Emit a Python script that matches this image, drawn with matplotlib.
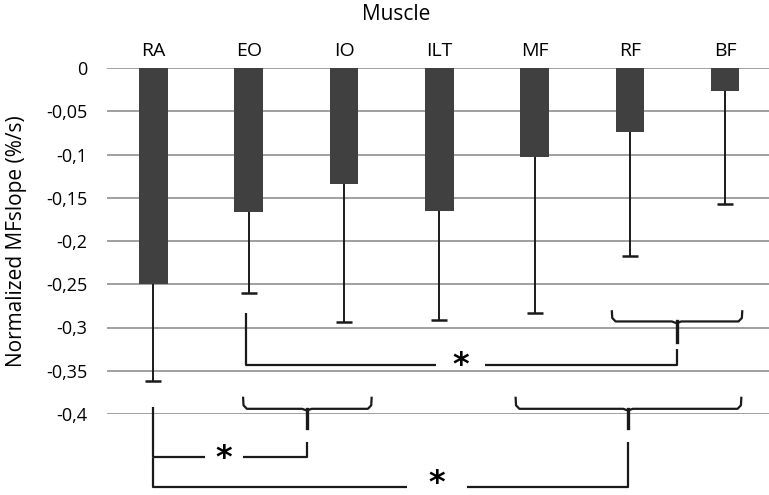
import matplotlib.pyplot as plt
import numpy as np

plt.rcParams['font.family'] = ['Open Sans', 'DejaVu Sans']

muscles = ['RA', 'EO', 'IO', 'ILT', 'MF', 'RF', 'BF']
means = [-0.250, -0.167, -0.134, -0.165, -0.103, -0.074, -0.027]
sd = [0.112, 0.093, 0.160, 0.126, 0.180, 0.143, 0.130]   # lower error only
yticks = [0, -0.05, -0.1, -0.15, -0.2, -0.25, -0.3, -0.35, -0.4]
ytick_labels = ['0', '-0,05', '-0,1', '-0,15', '-0,2', '-0,25', '-0,3', '-0,35', '-0,4']

fig = plt.figure(figsize=(7.69, 4.95), dpi=100)
ax = fig.add_axes([107/769, 1-414/495, 1-107/769, (414-68)/495])

x = np.arange(len(muscles))
lows = np.array(means) - np.array(sd)
ax.bar(x, means, width=0.30, color='#404040', zorder=3)
# only the lower half of the error bar is shown
ax.vlines(x, means, lows, color='#1a1a1a', lw=1.4, zorder=4)
ax.plot(x, lows, ls='none', marker='_', ms=11, mew=1.8, color='#1a1a1a', zorder=4)

ax.set_xlim(-0.488, 6.46)
ax.set_ylim(-0.4, 0)
ax.set_yticks(yticks)
ax.set_yticklabels(ytick_labels)
ax.set_xticks(x)
ax.set_xticklabels(muscles)
ax.tick_params(axis='x', top=True, bottom=False, labeltop=True, labelbottom=False,
               length=0, pad=6, labelsize=14)
ax.tick_params(axis='y', length=0, pad=14, labelsize=13)
ax.yaxis.grid(True, color='#999999', lw=1.3, zorder=0)
for s in ax.spines.values():
    s.set_visible(False)
fig.text(17/769, 1-241/495, 'Normalized MFslope (%/s)', rotation=90,
         ha='center', va='center', fontsize=15)
fig.text(396/769, 1-15/495, 'Muscle', ha='center', va='center', fontsize=15)

lk = dict(color='#1a1a1a', lw=1.6, clip_on=False, zorder=5, solid_capstyle='butt')


def brace(x0, x1, xc, ytip, yh, ystem):
    r = 0.04
    ax.plot([x0, x0 + 0.005, x0 + r, xc - 0.05, xc, xc + 0.05, x1 - r, x1 - 0.005, x1],
            [ytip, yh + 0.004, yh, yh, yh - 0.002, yh, yh, yh + 0.004, ytip], **lk)
    ax.plot([xc, xc], [yh, ystem], color='#1a1a1a', lw=2.4, clip_on=False, zorder=5)


def sig(xl, xr, ytop_l, ytop_r, yline, gap0, gap1, star_dy=-0.001):
    ax.plot([xl, xl, gap0], [ytop_l, yline, yline], **lk)
    ax.plot([gap1, xr, xr], [yline, yline, ytop_r], **lk)
    ax.text((gap0 + gap1) / 2, yline + star_dy, '*', ha='center', va='center',
            fontsize=23, fontweight='bold', family='DejaVu Sans', clip_on=False)


brace(4.81, 6.18, 5.49, -0.280, -0.293, -0.317)
sig(0.97, 5.49, -0.283, -0.325, -0.343, 2.97, 3.48)

brace(0.94, 2.29, 1.61, -0.380, -0.394, -0.416)
sig(0.0, 1.61, -0.392, -0.432, -0.450, 0.54, 0.94)

brace(3.80, 6.17, 4.98, -0.380, -0.394, -0.416)
sig(0.0, 4.98, -0.451, -0.432, -0.484, 2.66, 3.29, star_dy=0.004)

fig.savefig('out.png', dpi=100)
